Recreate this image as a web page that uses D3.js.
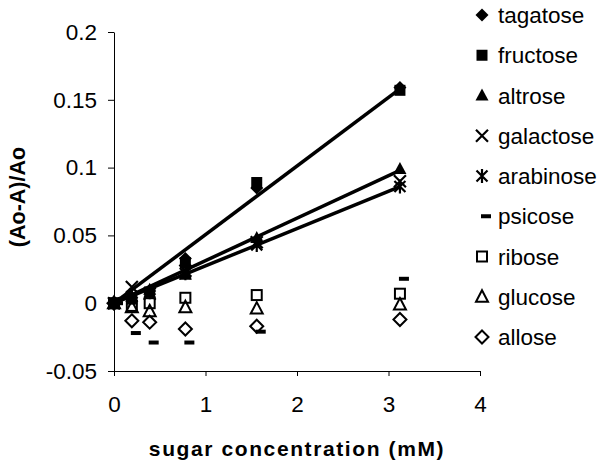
<!DOCTYPE html>
<html><head><meta charset="utf-8">
<script src="https://cdn.jsdelivr.net/npm/d3@7"></script>
<style>
body{margin:0;background:#fff;}
text{font-family:Arial,"Liberation Sans",sans-serif;font-stretch:normal;fill:#000;}
</style></head>
<body><svg id="c" width="608" height="468"></svg>
<script>
const conc = [0, 0.195, 0.39, 0.78, 1.56, 3.125];
const tagatose  = [0, 0.004, 0.009, 0.033, 0.085, 0.159];
const fructose  = [0, 0.003, 0.008, 0.030, 0.089, 0.157];
const altrose   = [0, 0.005, 0.010, 0.021, 0.048, 0.099];
const galactose = [0, 0.012, 0.007, 0.024, 0.045, 0.090];
const arabinose = [0, 0.005, 0.008, 0.022, 0.043, 0.086];
const psicose   = [0, -0.022, -0.029, -0.029, -0.021, 0.018];
const ribose    = [0, -0.002, 0.000, 0.004, 0.006, 0.007];
const glucose   = [0, -0.003, -0.006, -0.003, -0.004, -0.001];
const allose    = [0, -0.013, -0.014, -0.019, -0.017, -0.012];
const seriesNames = ["tagatose","fructose","altrose","galactose","arabinose","psicose","ribose","glucose","allose"];
const seriesValues = [tagatose,fructose,altrose,galactose,arabinose,psicose,ribose,glucose,allose];
const markerTypes = ["diamondF","squareF","triangleF","x","star","dash","squareO","triangleO","diamondO"];
const trendX = [0, 3.125];
const trendTop = [0, 0.158];
const trendMid = [0, 0.098];
const trendLow = [0, 0.086];
const xTicks = [0,1,2,3,4];
const yTicks = [-0.05,0,0.05,0.1,0.15,0.2];
const yTickLabels = ["-0.05","0","0.05","0.1","0.15","0.2"];

const svg = d3.select("#c");
const x = d3.scaleLinear().domain([0,4]).range([114,480]);
const y = d3.scaleLinear().domain([-0.05,0.2]).range([371,32]);

// axes
const ya = svg.append("g").attr("transform","translate(114,0)")
  .call(d3.axisLeft(y).tickValues(yTicks).tickSize(6).tickSizeOuter(0).tickPadding(11)
    .tickFormat((d,i)=>yTickLabels[i]));
const xa = svg.append("g").attr("transform","translate(0,371)")
  .call(d3.axisBottom(x).tickValues(xTicks).tickSize(5).tickSizeOuter(0).tickPadding(20).tickFormat(d3.format("d")));
[ya,xa].forEach(g=>{
  g.attr("font-family",null).attr("font-size",null);
  g.selectAll("path,line").attr("stroke","#000").attr("stroke-width",1);
  g.selectAll("text").attr("class","reg").attr("font-size",22.5).attr("fill","#000");
});

// trend lines
const line = d3.line().x((d,i)=>x(trendX[i])).y(d=>y(d));
[trendTop,trendMid,trendLow].forEach(t=>{
  svg.append("path").attr("d",line(t)).attr("fill","none").attr("stroke","#000").attr("stroke-width",3.5);
});

function drawMarker(g, type, cx, cy){
  const s = g.append("g").attr("transform",`translate(${cx},${cy})`);
  switch(type){
    case "diamondF": s.append("path").attr("d","M0,-6.5L6.5,0L0,6.5L-6.5,0Z").attr("fill","#000"); break;
    case "squareF": s.append("rect").attr("x",-5.5).attr("y",-5.5).attr("width",11).attr("height",11).attr("fill","#000"); break;
    case "triangleF": s.append("path").attr("d","M0,-7L6.5,5L-6.5,5Z").attr("fill","#000"); break;
    case "x": s.append("path").attr("d","M-6,-6L6,6M6,-6L-6,6").attr("stroke","#000").attr("stroke-width",2.2); break;
    case "star": s.append("path").attr("d","M-5.5,-5.5L5.5,5.5M5.5,-5.5L-5.5,5.5M0,-7L0,7").attr("stroke","#000").attr("stroke-width",2.2); break;
    case "dash": s.append("rect").attr("x",-1).attr("y",-2).attr("width",10).attr("height",4).attr("fill","#000"); break;
    case "squareO": s.append("rect").attr("x",-5).attr("y",-5).attr("width",10).attr("height",10).attr("fill","none").attr("stroke","#000").attr("stroke-width",2); break;
    case "triangleO": s.append("path").attr("d","M0,-6.5L6,5L-6,5Z").attr("fill","none").attr("stroke","#000").attr("stroke-width",2); break;
    case "diamondO": s.append("path").attr("d","M0,-6.5L6.5,0L0,6.5L-6.5,0Z").attr("fill","none").attr("stroke","#000").attr("stroke-width",2); break;
  }
}

// markers
seriesValues.forEach((vals,si)=>{
  const g = svg.append("g");
  vals.forEach((v,i)=>drawMarker(g, markerTypes[si], x(conc[i]), y(v)));
});

// legend
const lg = svg.append("g");
seriesNames.forEach((n,i)=>{
  const cy = 15 + i*40.25;
  drawMarker(lg, markerTypes[i], 482, cy);
  lg.append("text").attr("class","reg").attr("x",498).attr("y",cy+8).attr("font-size",22.5).text(n);
});

// axis titles
svg.append("text").attr("x",297).attr("y",456).attr("text-anchor","middle")
  .attr("font-size",21).attr("font-weight","bold").attr("letter-spacing",1.6).text("sugar concentration (mM)");
svg.append("text").attr("transform","translate(25,197) rotate(-90)").attr("text-anchor","middle")
  .attr("font-size",21.5).attr("font-weight","bold").text("(Ao-A)/Ao");

// guard against a condensed fallback face: compare with Arial metrics of "galactose" (4.28 em)
const probe = svg.append("text").attr("font-size",100).attr("x",-1000).attr("y",-1000).text("galactose");
const k = 428 / probe.node().getComputedTextLength();
probe.remove();
if (k > 1.04) {
  svg.selectAll("text.reg").each(function(){
    const t = d3.select(this);
    t.attr("textLength", this.getComputedTextLength()*k).attr("lengthAdjust","spacingAndGlyphs");
  });
}
</script></body></html>
